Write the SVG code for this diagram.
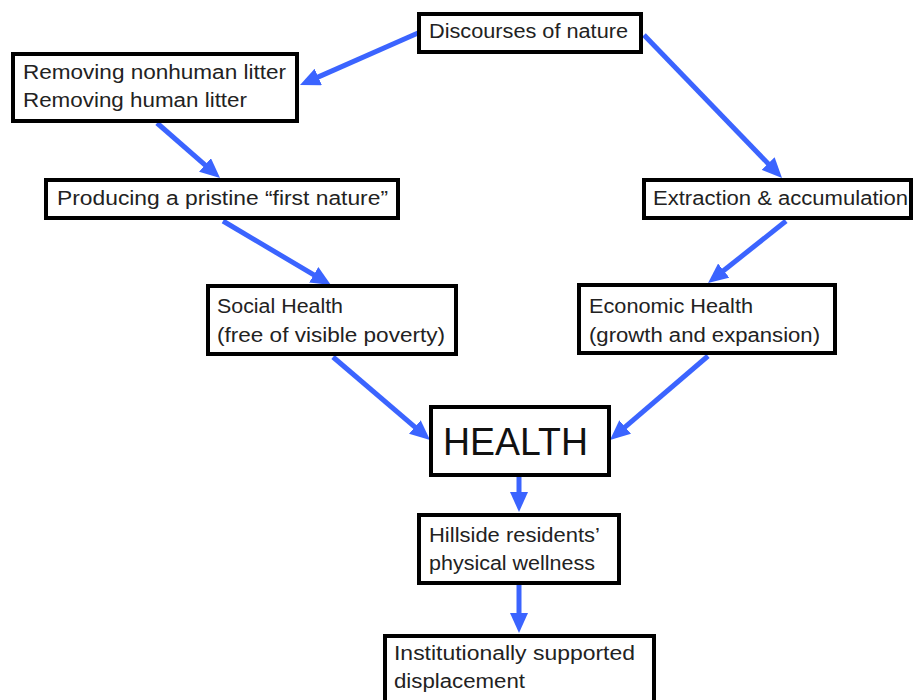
<svg xmlns="http://www.w3.org/2000/svg" width="914" height="700" viewBox="0 0 914 700">
<style>
.box{fill:#fff;stroke:#000;stroke-width:4}
.t{font-family:"Liberation Sans",Arial,sans-serif;font-size:20px;fill:#222}
.big{font-size:38px;fill:#111}
.c{fill:none;stroke:#3B64FF;stroke-width:5}
</style>
<defs>
<marker id="ah" markerUnits="userSpaceOnUse" markerWidth="20" markerHeight="18" refX="6" refY="9" orient="auto">
<path d="M0,0 L20,9 L0,18 z" fill="#3B64FF"/>
</marker>
</defs>
<rect width="914" height="700" fill="#fff"/>
<g id="connectors">
<path class="c" marker-end="url(#ah)" d="M418,33 L312.8,79.4"/>
<path class="c" marker-end="url(#ah)" d="M644,35 L772.3,167.9"/>
<path class="c" marker-end="url(#ah)" d="M157,123 L209.5,168.8"/>
<path class="c" marker-end="url(#ah)" d="M223,221 L318.9,277.9"/>
<path class="c" marker-end="url(#ah)" d="M786,221 L719,274.3"/>
<path class="c" marker-end="url(#ah)" d="M333,357 L419.4,430.9"/>
<path class="c" marker-end="url(#ah)" d="M708,356 L620.6,430.9"/>
<path class="c" marker-end="url(#ah)" d="M519,477 L519,498"/>
<path class="c" marker-end="url(#ah)" d="M519,585 L519,619"/>
</g>
<g id="discourses">
<rect class="box" x="419" y="14" width="222" height="38"/>
<text class="t" x="429" y="38" textLength="199" lengthAdjust="spacingAndGlyphs">Discourses of nature</text>
</g>
<g id="removing">
<rect class="box" x="13" y="54" width="284" height="67"/>
<text class="t" x="23" y="79" textLength="263" lengthAdjust="spacingAndGlyphs">Removing nonhuman litter</text>
<text class="t" x="23" y="107" textLength="224" lengthAdjust="spacingAndGlyphs">Removing human litter</text>
</g>
<g id="producing">
<rect class="box" x="46" y="180" width="352" height="38"/>
<text class="t" x="57" y="205" textLength="331" lengthAdjust="spacingAndGlyphs">Producing a pristine “first nature”</text>
</g>
<g id="extraction">
<rect class="box" x="644" y="180" width="267" height="38"/>
<text class="t" x="653" y="205" textLength="255" lengthAdjust="spacingAndGlyphs">Extraction &amp; accumulation</text>
</g>
<g id="social">
<rect class="box" x="208" y="286" width="248" height="68"/>
<text class="t" x="217" y="313" textLength="126" lengthAdjust="spacingAndGlyphs">Social Health</text>
<text class="t" x="217" y="342" textLength="228" lengthAdjust="spacingAndGlyphs">(free of visible poverty)</text>
</g>
<g id="economic">
<rect class="box" x="579" y="285" width="256" height="68"/>
<text class="t" x="589" y="313" textLength="164" lengthAdjust="spacingAndGlyphs">Economic Health</text>
<text class="t" x="589" y="342" textLength="231" lengthAdjust="spacingAndGlyphs">(growth and expansion)</text>
</g>
<g id="health">
<rect class="box" x="431" y="407" width="178" height="68"/>
<text class="t big" x="443" y="455" textLength="145" lengthAdjust="spacingAndGlyphs">HEALTH</text>
</g>
<g id="hillside">
<rect class="box" x="419" y="515" width="200" height="68"/>
<text class="t" x="429" y="542" textLength="171" lengthAdjust="spacingAndGlyphs">Hillside residents’</text>
<text class="t" x="429" y="570" textLength="166" lengthAdjust="spacingAndGlyphs">physical wellness</text>
</g>
<g id="institutional">
<rect class="box" x="385" y="636" width="269" height="80"/>
<text class="t" x="394" y="660" textLength="241" lengthAdjust="spacingAndGlyphs">Institutionally supported</text>
<text class="t" x="394" y="688" textLength="131" lengthAdjust="spacingAndGlyphs">displacement</text>
</g>
</svg>
